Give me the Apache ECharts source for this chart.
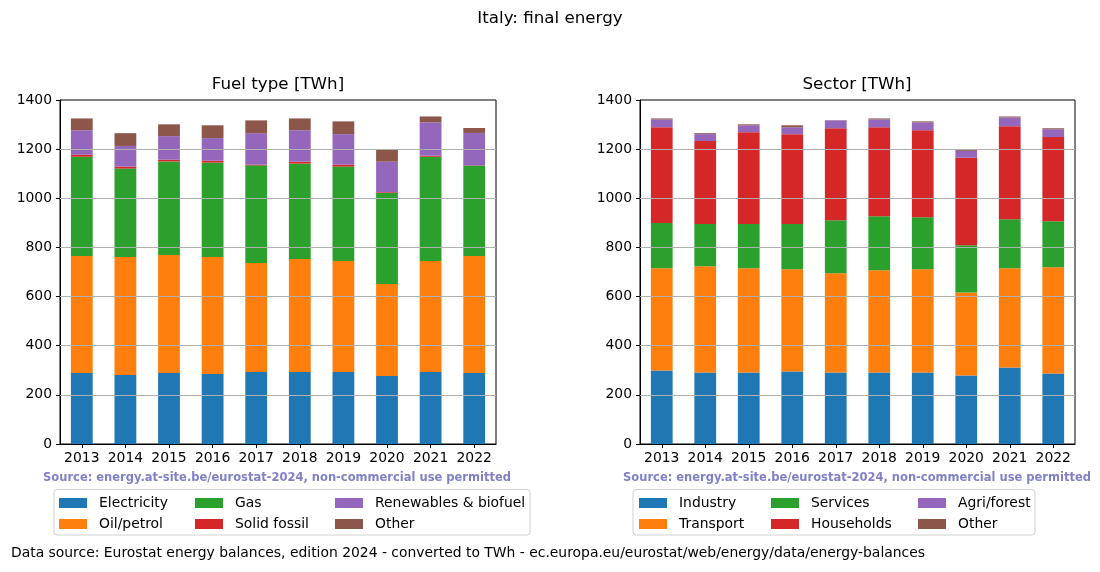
<!DOCTYPE html>
<html><head><meta charset="utf-8">
<script src="https://cdn.jsdelivr.net/npm/echarts@6/dist/echarts.min.js"></script>
<style>html,body{margin:0;padding:0;background:#fff}#c{width:1100px;height:572px}</style>
</head><body><div id="c"></div>
<script>
const years = ['2013','2014','2015','2016','2017','2018','2019','2020','2021','2022'];
const yTicks = [0,200,400,600,800,1000,1200,1400];
// Fuel type [TWh]
const fuelNames = ['Electricity','Oil/petrol','Gas','Solid fossil','Renewables & biofuel','Other'];
const electricity = [289,281,289,285,293,293,293,277,293,289];
const oil        = [476,480,480,476,444,460,452,374,452,476];
const gas        = [404,360,381,384,397,388,384,371,424,368];
const solid      = [8,8,7,8,3,8,8,3,4,1];
const renewables = [100,84,96,92,128,128,124,124,136,132];
const fuelOther  = [48,52,48,52,52,48,52,48,24,20];
// Sector [TWh]
const sectorNames = ['Industry','Transport','Services','Households','Agri/forest','Other'];
const industry   = [299,291,291,295,291,291,291,279,311,287];
const transport  = [416,432,424,416,404,416,420,338,404,432];
const services   = [184,172,180,184,216,220,212,192,200,188];
const households = [390,338,374,366,374,362,354,356,378,342];
const agri       = [32,28,28,28,32,32,32,28,36,32];
const secOther   = [4,4,4,8,1,4,4,4,4,4];

const colors = ['#1f77b4','#ff7f0e','#2ca02c','#d62728','#9467bd','#8c564b'];
const font = 'DejaVu Sans';
const fs = 13.9;
const grids = [
  {left:60, top:100, width:436, height:344},
  {left:640, top:100, width:435, height:344}
];
const fuelData = [electricity,oil,gas,solid,renewables,fuelOther];
const secData = [industry,transport,services,households,agri,secOther];

function axes(i){
  return {
    x:{type:'category', gridIndex:i, data:years,
      axisLine:{show:true,lineStyle:{color:'#000'}},
      axisTick:{show:true,alignWithLabel:true,interval:0,length:4,lineStyle:{color:'#000'}},
      axisLabel:{color:'#000',fontFamily:font,fontSize:fs,margin:7,interval:0},
      splitLine:{show:false}},
    y:{type:'value', gridIndex:i, min:0, max:1400, interval:200,
      axisLine:{show:true,lineStyle:{color:'#000'}},
      axisTick:{show:true,length:4,lineStyle:{color:'#000'}},
      axisLabel:{color:'#000',fontFamily:font,fontSize:fs,margin:8,formatter:v=>String(v)},
      splitLine:{show:false}}
  };
}
const a0=axes(0), a1=axes(1);
const series=[];
function addSeries(names,data,idx,stack){
  names.forEach((n,k)=>{
    const s={name:n,type:'bar',stack:stack,xAxisIndex:idx,yAxisIndex:idx,
      data:data[k],barWidth:'50%',itemStyle:{color:colors[k]},z:2};
    if(k===names.length-1){
      s.markLine={silent:true,symbol:'none',label:{show:false},
        lineStyle:{color:'#b0b0b0',type:'solid',width:1},z:5,animation:false,
        data:yTicks.slice(1,-1).map(v=>({yAxis:v}))};
    }
    series.push(s);
  });
}
addSeries(fuelNames,fuelData,0,'fuel');
addSeries(sectorNames,secData,1,'sector');

// legends: one per item for matplotlib-like column layout
const legends=[];
const fuelPos=[[59,496],[59,517],[195,496],[195,517],[335,496],[335,517]];
const secPos=[[639,496],[639,517],[771,496],[771,517],[918,496],[918,517]];
function addLegend(names,pos){
  names.forEach((n,k)=>{
    legends.push({data:[n],left:pos[k][0],top:pos[k][1],itemWidth:28,itemHeight:10,
      padding:0,selectedMode:false,icon:'rect',
      textStyle:{fontFamily:font,fontSize:fs,color:'#000',padding:[0,0,0,7]}});
  });
}
addLegend(fuelNames,fuelPos);
addLegend(sectorNames,secPos);

const chart=echarts.init(document.getElementById('c'),null,{renderer:'canvas'});
chart.setOption({
  animation:false,
  color:colors,
  grid:grids.map(g=>Object.assign({show:true,borderColor:'#000',borderWidth:1,backgroundColor:'transparent'},g)),
  xAxis:[a0.x,a1.x],
  yAxis:[a0.y,a1.y],
  legend:legends,
  series:series,
  graphic:[
    {type:'text',x:550,y:19,style:{text:'Italy: final energy',font:'16.7px "DejaVu Sans"',fill:'#000',textAlign:'center',textVerticalAlign:'middle'}},
    {type:'text',x:278,y:85,style:{text:'Fuel type [TWh]',font:'16.7px "DejaVu Sans"',fill:'#000',textAlign:'center',textVerticalAlign:'middle'}},
    {type:'text',x:857,y:85,style:{text:'Sector [TWh]',font:'16.7px "DejaVu Sans"',fill:'#000',textAlign:'center',textVerticalAlign:'middle'}},
    {type:'text',x:277,y:478,style:{text:'Source: energy.at-site.be/eurostat-2024, non-commercial use permitted',font:'bold 11.5px "DejaVu Sans"',fill:'#8080c8',textAlign:'center',textVerticalAlign:'middle'}},
    {type:'text',x:857,y:478,style:{text:'Source: energy.at-site.be/eurostat-2024, non-commercial use permitted',font:'bold 11.5px "DejaVu Sans"',fill:'#8080c8',textAlign:'center',textVerticalAlign:'middle'}},
    {type:'rect',shape:{x:54,y:489.5,width:476,height:45.5,r:3},style:{fill:'none',stroke:'#d0d0d0',lineWidth:1},z:-1},
    {type:'rect',shape:{x:633,y:489.5,width:402,height:45.5,r:3},style:{fill:'none',stroke:'#d0d0d0',lineWidth:1},z:-1},
    {type:'text',x:11,y:553,style:{text:'Data source: Eurostat energy balances, edition 2024 - converted to TWh - ec.europa.eu/eurostat/web/energy/data/energy-balances',font:'13.9px "DejaVu Sans"',fill:'#000',textVerticalAlign:'middle'}}
  ]
});
</script></body></html>
